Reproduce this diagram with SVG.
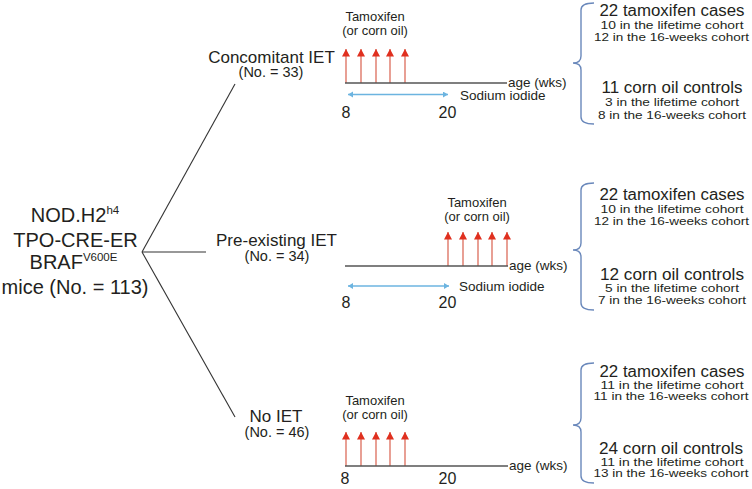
<svg xmlns="http://www.w3.org/2000/svg" width="752" height="489" viewBox="0 0 752 489">
<style>
text{font-family:"Liberation Sans",Arial,sans-serif;fill:#231f20}
.big{font-size:20px}
.sup{font-size:11.5px}
.grp{font-size:17px}
.no{font-size:14.5px}
.lab{font-size:13px}
.ax{font-size:13.5px}
.num{font-size:16px}
.rb{font-size:16px}
.rs{font-size:11.5px}
.conn{stroke:#333;stroke-width:1.1;fill:none}
.axis{stroke:#555;stroke-width:1.3}
.tam{stroke:#d9604e;stroke-width:1.2;marker-end:url(#rh)}
.na{stroke:#6cb4e0;stroke-width:1.3;marker-start:url(#bh);marker-end:url(#bh)}
.brace{stroke:#6a88bb;stroke-width:1.4;fill:none}
</style>
<defs>
<marker id="rh" markerUnits="userSpaceOnUse" markerWidth="9" markerHeight="9" refX="7.5" refY="4" orient="auto">
<path d="M0,0 L7.5,4 L0,8 Z" fill="#e0301f"/>
</marker>
<marker id="bh" markerUnits="userSpaceOnUse" markerWidth="8" markerHeight="8" refX="5" refY="3" orient="auto-start-reverse">
<path d="M0,0 L5,3 L0,6 Z" fill="#6cb4e0"/>
</marker>
</defs>

<g id="connectors">
<line class="conn" x1="142" y1="252" x2="235" y2="84"/>
<line class="conn" x1="142" y1="252" x2="206" y2="252"/>
<line class="conn" x1="142" y1="252" x2="235" y2="417"/>
</g>

<g id="root">
<text class="big" x="75" y="222" text-anchor="middle">NOD.H2<tspan class="sup" dy="-8">h4</tspan></text>
<text class="big" x="75.5" y="247" text-anchor="middle">TPO-CRE-ER</text>
<text class="big" x="73.5" y="268.5" text-anchor="middle">BRAF<tspan class="sup" dy="-8">V600E</tspan></text>
<text class="big" x="75" y="293.5" text-anchor="middle">mice (No. = 113)</text>
</g>

<g id="concomitant">
<text class="grp" x="271.5" y="62.5" text-anchor="middle">Concomitant IET</text>
<text class="no" x="271" y="76.5" text-anchor="middle">(No. = 33)</text>
<text class="lab" x="375" y="21" text-anchor="middle">Tamoxifen</text>
<text class="lab" x="375" y="35" text-anchor="middle">(or corn oil)</text>
<line class="tam" x1="346" y1="83" x2="346" y2="49"/>
<line class="tam" x1="361" y1="83" x2="361" y2="49"/>
<line class="tam" x1="376" y1="83" x2="376" y2="49"/>
<line class="tam" x1="390" y1="83" x2="390" y2="49"/>
<line class="tam" x1="405" y1="83" x2="405" y2="49"/>
<line class="axis" x1="345" y1="83" x2="507" y2="83"/>
<text class="ax" x="508" y="86.5">age (wks)</text>
<line class="na" x1="348" y1="94.5" x2="448" y2="94.5"/>
<text class="ax" x="460" y="99.5">Sodium iodide</text>
<text class="num" x="346" y="117.5" text-anchor="middle">8</text>
<text class="num" x="447.5" y="117.5" text-anchor="middle">20</text>
</g>

<g id="preexisting">
<text class="grp" x="276.5" y="246" text-anchor="middle">Pre-existing IET</text>
<text class="no" x="277" y="261" text-anchor="middle">(No. = 34)</text>
<text class="lab" x="477" y="207" text-anchor="middle">Tamoxifen</text>
<text class="lab" x="477" y="221" text-anchor="middle">(or corn oil)</text>
<line class="tam" x1="448" y1="266" x2="448" y2="232"/>
<line class="tam" x1="463" y1="266" x2="463" y2="232"/>
<line class="tam" x1="478" y1="266" x2="478" y2="232"/>
<line class="tam" x1="492" y1="266" x2="492" y2="232"/>
<line class="tam" x1="507" y1="266" x2="507" y2="232"/>
<line class="axis" x1="345" y1="266" x2="508" y2="266"/>
<text class="ax" x="509" y="270">age (wks)</text>
<line class="na" x1="348" y1="286" x2="449" y2="286"/>
<text class="ax" x="459" y="290.5">Sodium iodide</text>
<text class="num" x="346" y="308" text-anchor="middle">8</text>
<text class="num" x="447.5" y="308" text-anchor="middle">20</text>
</g>

<g id="noiet">
<text class="grp" x="276" y="421.5" text-anchor="middle">No IET</text>
<text class="no" x="277" y="436.5" text-anchor="middle">(No. = 46)</text>
<text class="lab" x="375" y="405" text-anchor="middle">Tamoxifen</text>
<text class="lab" x="375" y="419" text-anchor="middle">(or corn oil)</text>
<line class="tam" x1="346" y1="466" x2="346" y2="432"/>
<line class="tam" x1="361" y1="466" x2="361" y2="432"/>
<line class="tam" x1="376" y1="466" x2="376" y2="432"/>
<line class="tam" x1="390" y1="466" x2="390" y2="432"/>
<line class="tam" x1="405" y1="466" x2="405" y2="432"/>
<line class="axis" x1="345" y1="466" x2="508" y2="466"/>
<text class="ax" x="509" y="470">age (wks)</text>
<text class="num" x="345" y="483.5" text-anchor="middle">8</text>
<text class="num" x="447.5" y="483.5" text-anchor="middle">20</text>
</g>

<g id="outcome-concomitant">
<path class="brace" d="M594,3 Q581,3 581,10 L581,56 Q581,63 573,63 Q581,63 581,70 L581,117 Q581,124 594,124"/>
<text class="rb" x="599.5" y="16" textLength="145" lengthAdjust="spacingAndGlyphs">22 tamoxifen cases</text>
<text class="rs" x="600.5" y="28.5" textLength="143" lengthAdjust="spacingAndGlyphs">10 in the lifetime cohort</text>
<text class="rs" x="594" y="41" textLength="155" lengthAdjust="spacingAndGlyphs">12 in the 16-weeks cohort</text>
<text class="rb" x="601.5" y="93" textLength="141" lengthAdjust="spacingAndGlyphs">11 corn oil controls</text>
<text class="rs" x="605" y="106" textLength="134" lengthAdjust="spacingAndGlyphs">3 in the lifetime cohort</text>
<text class="rs" x="598" y="119" textLength="148" lengthAdjust="spacingAndGlyphs">8 in the 16-weeks cohort</text>
</g>

<g id="outcome-preexisting">
<path class="brace" d="M594,183 Q581,183 581,190 L581,243 Q581,250 573,250 Q581,250 581,257 L581,303 Q581,310 594,310"/>
<text class="rb" x="599.5" y="200" textLength="145" lengthAdjust="spacingAndGlyphs">22 tamoxifen cases</text>
<text class="rs" x="600.5" y="212.5" textLength="143" lengthAdjust="spacingAndGlyphs">10 in the lifetime cohort</text>
<text class="rs" x="594" y="224.5" textLength="155" lengthAdjust="spacingAndGlyphs">12 in the 16-weeks cohort</text>
<text class="rb" x="600" y="280" textLength="144" lengthAdjust="spacingAndGlyphs">12 corn oil controls</text>
<text class="rs" x="605" y="292" textLength="134" lengthAdjust="spacingAndGlyphs">5 in the lifetime cohort</text>
<text class="rs" x="598" y="304" textLength="148" lengthAdjust="spacingAndGlyphs">7 in the 16-weeks cohort</text>
</g>

<g id="outcome-noiet">
<path class="brace" d="M594,363 Q581,363 581,370 L581,418 Q581,425 573,425 Q581,425 581,432 L581,476 Q581,483 594,483"/>
<text class="rb" x="599.5" y="377" textLength="145" lengthAdjust="spacingAndGlyphs">22 tamoxifen cases</text>
<text class="rs" x="600.5" y="388.5" textLength="143" lengthAdjust="spacingAndGlyphs">11 in the lifetime cohort</text>
<text class="rs" x="593.5" y="400" textLength="155" lengthAdjust="spacingAndGlyphs">11 in the 16-weeks cohort</text>
<text class="rb" x="599" y="454" textLength="144" lengthAdjust="spacingAndGlyphs">24 corn oil controls</text>
<text class="rs" x="600.5" y="466" textLength="143" lengthAdjust="spacingAndGlyphs">11 in the lifetime cohort</text>
<text class="rs" x="593.5" y="477" textLength="155" lengthAdjust="spacingAndGlyphs">13 in the 16-weeks cohort</text>
</g>
</svg>
